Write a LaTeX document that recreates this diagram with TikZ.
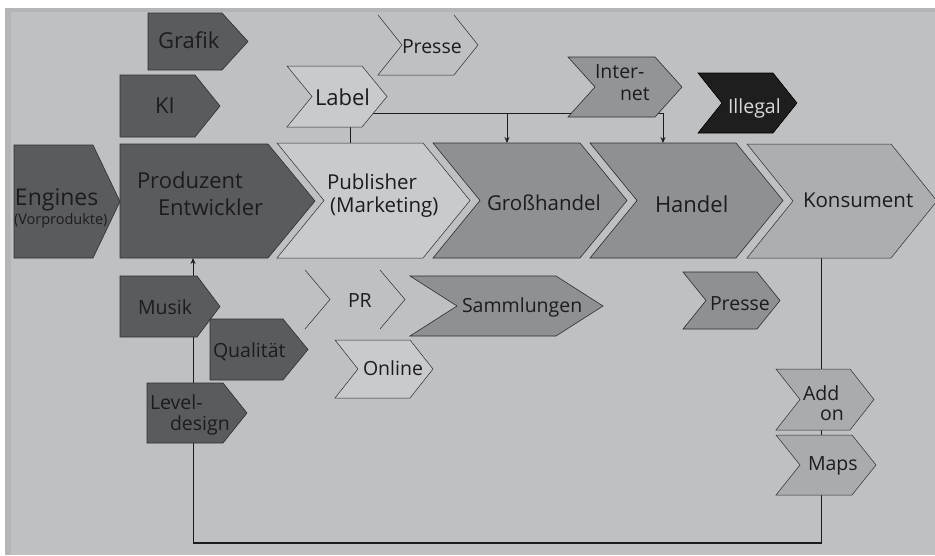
\documentclass[tikz,border=0pt]{standalone}
\usepackage{fontspec}
\setmainfont{Open Sans}
\usetikzlibrary{arrows.meta}
\definecolor{panel}{HTML}{BFC0C2}
\definecolor{panelrim}{HTML}{B4B5B7}
\definecolor{dark}{HTML}{5A5B5D}
\definecolor{mid}{HTML}{8F9092}
\definecolor{midb}{HTML}{939496}
\definecolor{light}{HTML}{C9CACC}
\definecolor{kons}{HTML}{ADAEB0}
\definecolor{addc}{HTML}{AAABAD}
\definecolor{blk}{HTML}{1E1E1F}
\definecolor{edge}{HTML}{2E2E30}
\definecolor{ink}{HTML}{1C1C1E}
\pgfdeclarelayer{back}
\pgfdeclarelayer{bg}
\pgfsetlayers{back,bg,main}
\newcommand\mkchev[8]{%
  \pgfmathsetmacro\chR{#2+#4}%
  \pgfmathsetmacro\chS{#2+#4-#6}%
  \pgfmathsetmacro\chB{#3+#5}%
  \pgfmathsetmacro\chM{#3+#5/2}%
  \pgfmathsetmacro\chN{#2+#7*#6}%
  \path[#8] (#2,#3) -- (\chS,#3) -- (\chR,\chM) -- (\chS,\chB) -- (#2,\chB) -- (\chN,\chM) -- cycle;
  \node[box,minimum width=#4pt,minimum height=#5pt,anchor=north west] (#1) at (#2,#3) {};
}
\begin{document}
\begin{tikzpicture}[x=1pt,y=-1pt,
  box/.style={inner sep=0pt,outer sep=0pt},
  dk/.style={fill=dark,draw=edge,line width=0.6pt},
  md/.style={fill=mid,draw=edge,line width=0.6pt},
  mdb/.style={fill=midb,draw=edge,line width=0.6pt},
  lt/.style={fill=light,draw=edge,line width=0.5pt},
  ks/.style={fill=kons,draw=edge,line width=0.5pt},
  ad/.style={fill=addc,draw=edge,line width=0.5pt},
  bk/.style={fill=blk,draw=black,line width=0.6pt},
  ol/.style={draw=edge,line width=0.5pt},
  txt/.style={inner sep=0pt,outer sep=0pt,text=ink,anchor=base west},
  fa/.style={txt,font=\fontsize{22}{26}\selectfont},
  fb/.style={txt,font=\fontsize{20.5}{24}\selectfont},
  fc/.style={txt,font=\fontsize{19.5}{23}\selectfont},
  conn/.style={draw=ink,line width=0.8pt},
  arr/.style={conn,-{Stealth[length=6pt,width=5pt]}}]
\useasboundingbox (0,0) rectangle (935,555);
\begin{pgfonlayer}{back}
  \fill[white] (0,0) rectangle (935,555);
  \fill[panelrim] (5,8) rectangle (935,555);
  \fill[panel] (11,12) rectangle (935,555);
\end{pgfonlayer}

% upper row
\mkchev{grafik}{148}{13}{100}{57}{26}{0}{dk}
\mkchev{ki}{120}{75}{100}{62}{25}{0}{dk}
\mkchev{label}{287}{66}{100}{61}{25}{1}{lt}
\mkchev{presse1}{378}{15}{100}{60}{24}{1}{draw=none}
\draw[ol] (454,15) -- (478,45) -- (454,75) -- (378,75) -- (402,45) -- (378,15);
\mkchev{internet}{568}{57}{114}{60}{27}{1}{mdb}
\mkchev{illegal}{698}{73}{99}{60}{24}{1}{bk}

% main row
\mkchev{engines}{14}{145}{106}{113}{27}{0}{dk}
\mkchev{produzent}{120}{144}{195}{114}{47}{0}{dk}
\mkchev{publisher}{277}{143}{193}{115}{47}{1}{lt}
\mkchev{grosshandel}{433}{143}{194}{115}{47}{1}{md}
\mkchev{handel}{590}{143}{193}{115}{47}{1}{md}
\mkchev{konsument}{747}{144}{190}{114}{46}{1}{ks}

% lower row
\mkchev{musik}{120}{276}{100}{61}{23}{0}{dk}
\mkchev{qualitaet}{210}{319}{98}{61}{25}{0}{dk}
\mkchev{level}{147}{383}{100}{60}{24}{0}{dk}
\mkchev{pr}{305}{270}{100}{59}{25}{1}{draw=none}
\draw[ol] (305,270) -- (330,299.5) -- (305,329);
\draw[ol] (380,270) -- (405,299.5) -- (380,329);
\mkchev{sammlungen}{410}{276}{193}{60}{47}{1}{md}
\mkchev{online}{335}{340}{98}{58}{23}{1}{lt}
\mkchev{presse2}{683}{272}{97}{57}{23}{1}{md}
\mkchev{addon}{776}{369}{98}{61}{24}{1}{ad}
\mkchev{maps}{776}{435}{100}{60}{24}{1}{ad}

% texts
\node[fa] (t-grafik) at (158,48) {Grafik};
\node[fa] (t-ki) at (155,113) {KI};
\node[fa] (t-label) at (315,105) {Label};
\node[fc] (t-presse1) at (402,53) {Presse};
\node[fc] (t-inter) at (595,78) {Inter-};
\node[fc] (t-net) at (620,100) {net};
\node[fc,text=white!85!black] (t-illegal) at (728,113) {Illegal};
\node[txt,font=\fontsize{23}{27}\selectfont] (t-engines) at (15,205) {Engines};
\node[txt,font=\fontsize{14.5}{17}\selectfont] (t-vorprod) at (14,224) {(Vorprodukte)};
\node[fa] (t-prod) at (137,188) {Produzent};
\node[fa] (t-entw) at (158,215) {Entwickler};
\node[fb] (t-publ) at (327,189) {Publisher};
\node[fb] (t-mark) at (330,212) {(Marketing)};
\node[fb] (t-gross) at (487,210) {Großhandel};
\node[fa] (t-handel) at (655,212) {Handel};
\node[fb] (t-kons) at (803,207) {Konsument};
\node[fc] (t-musik) at (138,314) {Musik};
\node[fc] (t-qual) at (213,357) {Qualität};
\node[fc] (t-level) at (150,409) {Level-};
\node[fc] (t-design) at (170,430) {design};
\node[fc] (t-pr) at (348,307) {PR};
\node[fc] (t-samm) at (462,312) {Sammlungen};
\node[fc] (t-online) at (363,375) {Online};
\node[fc] (t-presse2) at (710,310) {Presse};
\node[fc] (t-add) at (803,400) {Add};
\node[fc] (t-on) at (820,420) {on};
\node[fc] (t-maps) at (808,470) {Maps};

% connectors
\begin{pgfonlayer}{bg}
  \coordinate (b1) at (507,113);
  \coordinate (b2) at (663,113);
  \coordinate (k1) at (821,543);
  \coordinate (k2) at (193,543);
  \draw[conn] ([xshift=13pt]label.south) -- ([xshift=13pt]label.south |- publisher.north);
  \draw[conn] (label.center |- b1) -- (b2);
  \draw[arr] (b1) -- (b1 |- grosshandel.north);
  \draw[arr] (b2) -- (b2 |- handel.north);
  \draw[arr] (k1 |- konsument.south) -- (k1) -- (k2) -- (k2 |- produzent.south);
  \draw[draw=ink,line width=2pt] (k2) -- (k1);
\end{pgfonlayer}
\end{tikzpicture}
\end{document}
